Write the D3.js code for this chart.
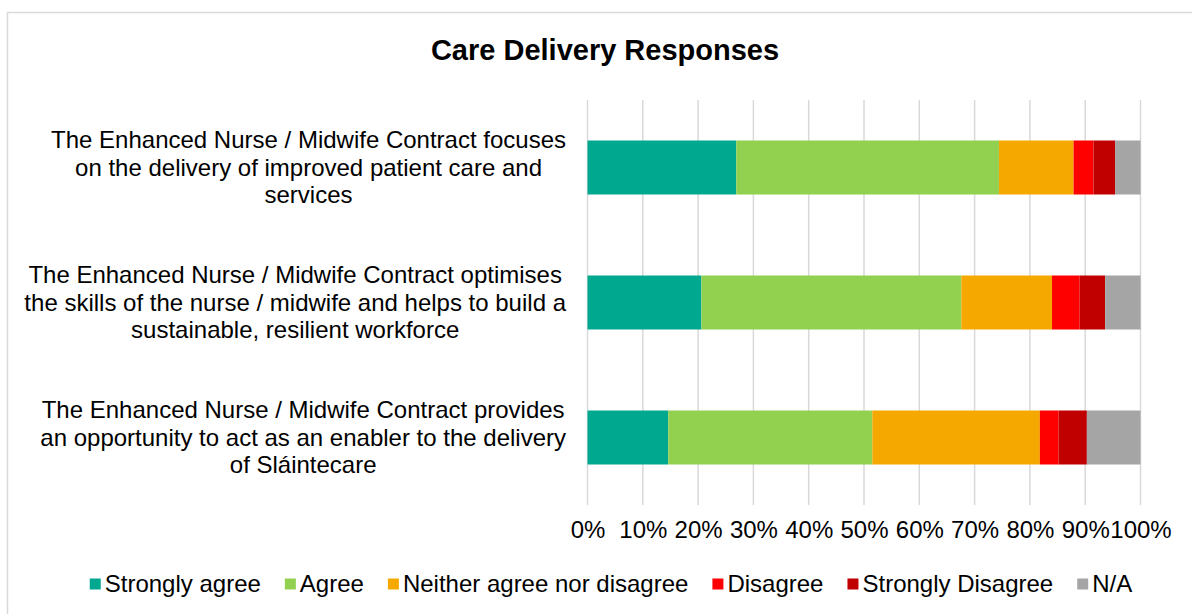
<!DOCTYPE html>
<html>
<head>
<meta charset="utf-8">
<script src="https://cdn.jsdelivr.net/npm/d3@7"></script>
<style>
  html, body { margin: 0; padding: 0; background: #fff; }
  svg { display: block; font-family: Arial, "Liberation Sans", sans-serif; }
</style>
</head>
<body>
<svg id="chart" width="1192" height="614"></svg>
<script>
// Survey statements (one per bar)
const statements = [
  "The Enhanced Nurse / Midwife Contract focuses on the delivery of improved patient care and services",
  "The Enhanced Nurse / Midwife Contract optimises the skills of the nurse / midwife and helps to build a sustainable, resilient workforce",
  "The Enhanced Nurse / Midwife Contract provides an opportunity to act as an enabler to the delivery of Sláintecare"
];
// Wrapped label lines for each statement
const statementLines = [
  ["The Enhanced Nurse / Midwife Contract focuses", "on the delivery of improved patient care and", "services"],
  ["The Enhanced Nurse / Midwife Contract optimises", "the skills of the nurse / midwife and helps to build a", "sustainable, resilient workforce"],
  ["The Enhanced Nurse / Midwife Contract provides", "an opportunity to act as an enabler to the delivery", "of Sláintecare"]
];
// Response categories
const responses = ["Strongly agree", "Agree", "Neither agree nor disagree", "Disagree", "Strongly Disagree", "N/A"];
const responseColors = ["#00A88F", "#92D050", "#F5A800", "#FF0000", "#C00000", "#A5A5A5"];
// Share of responses (%) per statement
const stronglyAgree = [26.9, 20.6, 14.6];
const agree         = [47.5, 47.0, 36.9];
const neither       = [13.5, 16.4, 30.3];
const disagree      = [3.6, 5.0, 3.4];
const stronglyDis   = [3.9, 4.6, 5.1];
const notApplicable = [4.6, 6.4, 9.7];
const tickValues = [0, 0.1, 0.2, 0.3, 0.4, 0.5, 0.6, 0.7, 0.8, 0.9, 1.0];

const seriesValues = [stronglyAgree, agree, neither, disagree, stronglyDis, notApplicable];
const rows = statements.map((s, i) => {
  const row = { statement: s };
  const total = d3.sum(seriesValues, v => v[i]);
  responses.forEach((r, k) => { row[r] = seriesValues[k][i] / total; });
  return row;
});

const svg = d3.select("#chart");
const fontSize = 24;

// chart frame
svg.append("rect")
  .attr("x", 7.5).attr("y", 12.5)
  .attr("width", 1200).attr("height", 620)
  .attr("fill", "#fff").attr("stroke", "#d9d9d9").attr("stroke-width", 1.5);

// title
svg.append("text")
  .attr("x", 605).attr("y", 60)
  .attr("text-anchor", "middle")
  .attr("font-size", 29).attr("font-weight", "bold")
  .attr("fill", "#000")
  .text("Care Delivery Responses");

const plot = { left: 587.5, right: 1140.5, top: 100, bottom: 505 };
const x = d3.scaleLinear().domain([0, 1]).range([plot.left, plot.right]);
const y = d3.scaleBand().domain(statements).range([plot.top, plot.bottom])
  .paddingInner(0.6).paddingOuter(0.3);

// vertical gridlines
svg.append("g").selectAll("line").data(tickValues).join("line")
  .attr("x1", d => x(d)).attr("x2", d => x(d))
  .attr("y1", plot.top).attr("y2", plot.bottom)
  .attr("stroke", "#d9d9d9").attr("stroke-width", 1.5);

// stacked bars
const stack = d3.stack().keys(responses)(rows);
svg.append("g").selectAll("g").data(stack).join("g")
  .attr("fill", (d, i) => responseColors[i])
  .selectAll("rect").data(d => d).join("rect")
  .attr("x", d => x(d[0]))
  .attr("width", d => x(d[1]) - x(d[0]))
  .attr("y", d => y(d.data.statement))
  .attr("height", y.bandwidth());

// x axis tick labels
const xAxis = d3.axisBottom(x).tickValues(tickValues).tickFormat(d3.format(".0%")).tickSize(0).tickPadding(0);
const ax = svg.append("g").attr("transform", `translate(0, ${plot.bottom + 16})`).call(xAxis);
ax.select(".domain").remove();
ax.selectAll("text").attr("font-size", fontSize).attr("fill", "#000")
  .attr("font-family", "Arial, 'Liberation Sans', sans-serif").attr("dy", "0.71em");

// category labels: wrapped block right-aligned at the plot, lines centred
const labelRight = 566;
const lineH = 27.5;
statements.forEach((s, i) => {
  const lines = statementLines[i];
  const g = svg.append("g");
  const texts = lines.map((ln, j) => g.append("text")
    .attr("font-size", fontSize).attr("fill", "#000")
    .attr("text-anchor", "middle")
    .attr("y", y(s) + y.bandwidth() / 2 + (j - (lines.length - 1) / 2) * lineH)
    .attr("dy", "0.35em")
    .text(ln));
  const maxW = d3.max(texts, t => t.node().getComputedTextLength());
  texts.forEach(t => t.attr("x", labelRight - maxW / 2));
});

// legend
const legend = svg.append("g");
const items = responses.map((r, i) => {
  const g = legend.append("g");
  g.append("rect").attr("width", 11).attr("height", 11).attr("y", -5.5).attr("fill", responseColors[i]);
  const t = g.append("text").attr("x", 15).attr("dy", "0.35em")
    .attr("font-size", fontSize).attr("fill", "#000").text(r);
  return { g, w: 15 + t.node().getComputedTextLength() };
});
const gap = 24;
const totalW = d3.sum(items, d => d.w) + gap * (items.length - 1);
let cx = 611 - totalW / 2;
items.forEach(it => { it.g.attr("transform", `translate(${cx}, 584)`); cx += it.w + gap; });
</script>
</body>
</html>
